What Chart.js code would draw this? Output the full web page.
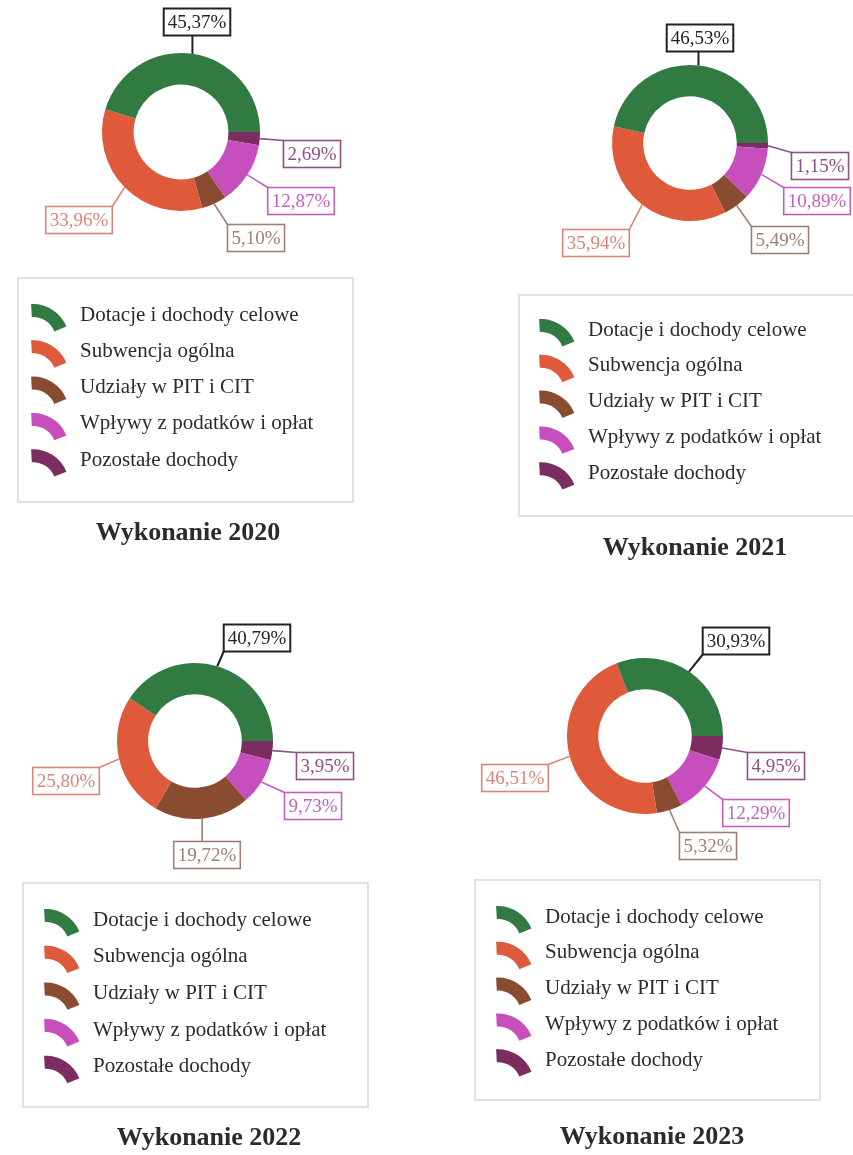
<!DOCTYPE html>
<html>
<head>
<meta charset="utf-8">
<script src="https://cdn.jsdelivr.net/npm/chart.js@4.4.1/dist/chart.umd.min.js"></script>
<style>
  body { margin: 0; background: #fff; }
  #page { position: relative; width: 853px; height: 1155px; overflow: hidden; }
  #page canvas { position: absolute; }
</style>
</head>
<body>
<div id="page">
  <canvas id="c2020"></canvas>
  <canvas id="c2021"></canvas>
  <canvas id="c2022"></canvas>
  <canvas id="c2023"></canvas>
</div>
<script>
const categories = ['Dotacje i dochody celowe', 'Subwencja ogólna', 'Udziały w PIT i CIT', 'Wpływy z podatków i opłat', 'Pozostałe dochody'];
const shares2020 = [45.37, 33.96, 5.10, 12.87, 2.69];
const shares2021 = [46.53, 35.94, 5.49, 10.89, 1.15];
const shares2022 = [40.79, 25.80, 19.72, 9.73, 3.95];
const shares2023 = [30.93, 46.51, 5.32, 12.29, 4.95];
const titles = ['Wykonanie 2020', 'Wykonanie 2021', 'Wykonanie 2022', 'Wykonanie 2023'];

const sliceColors = ['#317a41', '#de5a3b', '#8a4c30', '#c64fbd', '#7b2c60'];
const labelColors = ['#222222', '#d9857b', '#9f8073', '#c45fc0', '#8f5088'];
const serif = '"Liberation Serif", "Times New Roman", serif';

// page layout for each panel (pixels)
const panels = [
  { id: 'c2020', values: shares2020, title: titles[0], left: 0, top: 0, w: 426, h: 580,
    cx: 181, cy: 132, r: 79,
    labelPos: [[16, -110], [-102, 88], [75, 106], [120, 69], [131, 22]],
    legend: { x: 18, y: 278, w: 335, h: 224, textX: 80, rowY: 315, step: 36.3 },
    titleX: 188, titleY: 533 },
  { id: 'c2021', values: shares2021, title: titles[1], left: 426, top: 0, w: 427, h: 580,
    cx: 690, cy: 143, r: 78,
    labelPos: [[10, -105], [-94, 100], [90, 97], [127, 58], [130, 23]],
    legend: { x: 519, y: 295, w: 340, h: 221, textX: 588, rowY: 330, step: 35.8 },
    titleX: 695, titleY: 548 },
  { id: 'c2022', values: shares2022, title: titles[2], left: 0, top: 580, w: 426, h: 575,
    cx: 195, cy: 741, r: 78,
    labelPos: [[62, -103], [-129, 40], [12, 114], [118, 65], [130, 25]],
    legend: { x: 23, y: 883, w: 345, h: 224, textX: 93, rowY: 920, step: 36.7 },
    titleX: 209, titleY: 1138 },
  { id: 'c2023', values: shares2023, title: titles[3], left: 426, top: 580, w: 427, h: 575,
    cx: 645, cy: 736, r: 78,
    labelPos: [[91, -95], [-130, 42], [63, 110], [111, 77], [131, 30]],
    legend: { x: 475, y: 880, w: 345, h: 220, textX: 545, rowY: 917, step: 35.8 },
    titleX: 652, titleY: 1137 }
];

function fmt(v) {
  return v.toFixed(2).replace('.', ',') + '%';
}

// small arc-shaped legend marker
function drawIcon(ctx, x, y, color) {
  const cx = x, cy = y + 37;
  const a0 = -93 * Math.PI / 180, a1 = -22 * Math.PI / 180;
  ctx.beginPath();
  ctx.arc(cx, cy, 36, a0, a1);
  ctx.arc(cx, cy, 23, a1, a0, true);
  ctx.closePath();
  ctx.fillStyle = color;
  ctx.fill();
}

// labels with boxes and leader lines, legend box and title
const decorations = {
  id: 'decorations',
  afterDraw(chart, args, opts) {
    const p = opts.panel;
    const ctx = chart.ctx;
    const meta = chart.getDatasetMeta(0);
    const n = categories.length;
    ctx.save();
    ctx.font = '19px ' + serif;
    ctx.textBaseline = 'middle';
    ctx.textAlign = 'center';
    meta.data.forEach((arc, i) => {
      const k = n - 1 - i;
      const mid = (arc.startAngle + arc.endAngle) / 2;
      const ax = arc.x + arc.outerRadius * Math.cos(mid);
      const ay = arc.y + arc.outerRadius * Math.sin(mid);
      const text = fmt(p.values[k]);
      const bw = ctx.measureText(text).width + 8;
      const bh = 27;
      const bx = arc.x + p.labelPos[k][0] - bw / 2;
      const by = arc.y + p.labelPos[k][1] - bh / 2;
      const ex = Math.min(Math.max(ax, bx), bx + bw);
      const ey = Math.min(Math.max(ay, by), by + bh);
      ctx.strokeStyle = labelColors[k];
      ctx.lineWidth = k === 0 ? 2 : 1.6;
      ctx.beginPath();
      ctx.moveTo(ax, ay);
      ctx.lineTo(ex, ey);
      ctx.stroke();
      ctx.fillStyle = '#fff';
      ctx.fillRect(bx, by, bw, bh);
      ctx.strokeRect(bx, by, bw, bh);
      ctx.fillStyle = labelColors[k];
      ctx.fillText(text, bx + bw / 2, by + bh / 2 + 1);
    });

    const lg = p.legend;
    const ox = p.left, oy = p.top;
    ctx.strokeStyle = '#e2e2e2';
    ctx.lineWidth = 2;
    ctx.strokeRect(lg.x - ox, lg.y - oy, lg.w, lg.h);
    ctx.font = '21px ' + serif;
    ctx.textAlign = 'left';
    categories.forEach((name, k) => {
      const ry = lg.rowY + lg.step * k - oy;
      drawIcon(ctx, lg.textX - 47 - ox, ry - 12, sliceColors[k]);
      ctx.fillStyle = '#2b2b2b';
      ctx.fillText(name, lg.textX - ox, ry);
    });

    ctx.font = 'bold 26px ' + serif;
    ctx.textAlign = 'center';
    ctx.fillStyle = '#2b2b2b';
    ctx.fillText(p.title, p.titleX - ox, p.titleY - oy);
    ctx.restore();
  }
};

panels.forEach(p => {
  const canvas = document.getElementById(p.id);
  canvas.width = p.w;
  canvas.height = p.h;
  canvas.style.left = p.left + 'px';
  canvas.style.top = p.top + 'px';
  const lx = p.cx - p.left, ly = p.cy - p.top;

  new Chart(canvas.getContext('2d'), {
    type: 'doughnut',
    data: {
      // reversed so the slices run counter-clockwise from 3 o'clock
      labels: categories.slice().reverse(),
      datasets: [{
        data: p.values.slice().reverse(),
        backgroundColor: sliceColors.slice().reverse(),
        borderWidth: 0,
        hoverOffset: 0
      }]
    },
    options: {
      responsive: false,
      animation: false,
      events: [],
      rotation: 90,
      cutout: '60%',
      layout: {
        padding: {
          left: lx - p.r,
          top: ly - p.r,
          right: p.w - lx - p.r,
          bottom: p.h - ly - p.r
        }
      },
      plugins: {
        legend: { display: false },
        tooltip: { enabled: false },
        decorations: { panel: p }
      }
    },
    plugins: [decorations]
  });
});
</script>
</body>
</html>
